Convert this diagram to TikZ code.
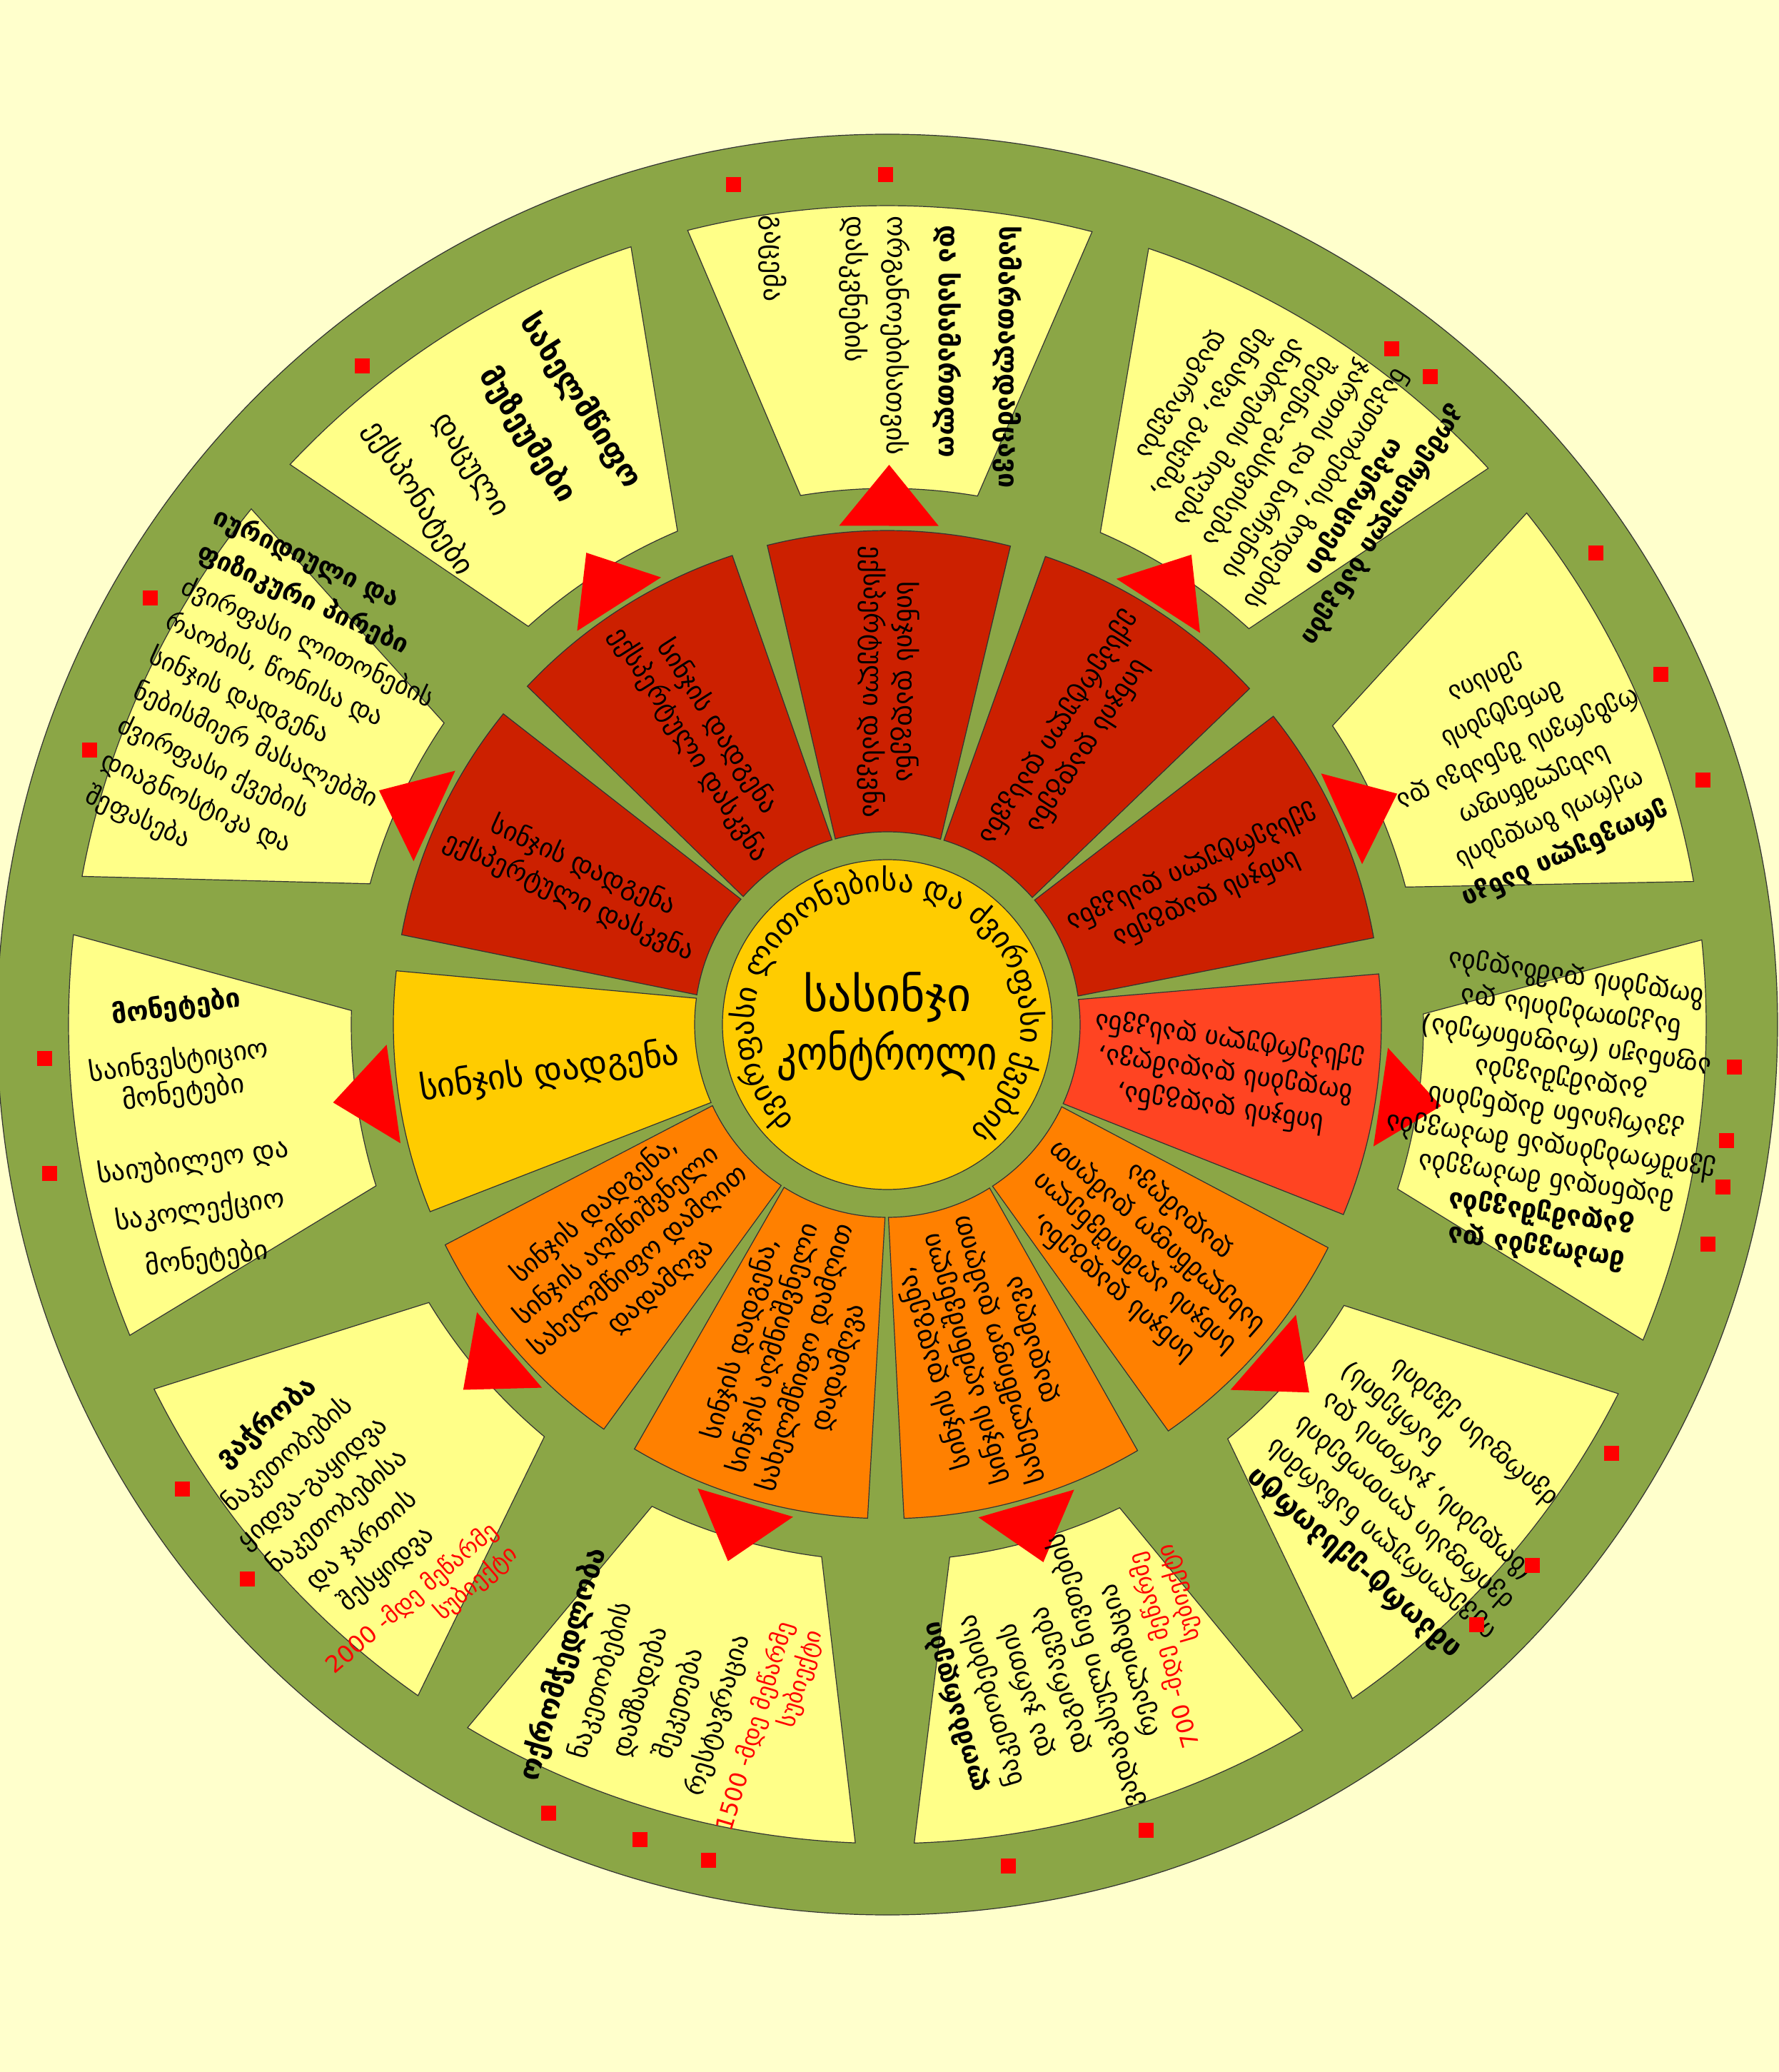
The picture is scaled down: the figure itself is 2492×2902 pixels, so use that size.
\documentclass[tikz,border=0pt]{standalone}
\usepackage{fontspec}
\usepackage{graphicx}
\setmainfont{DejaVu Sans}
\usetikzlibrary{decorations.text}
\definecolor{bgc}{HTML}{FFFFCC}
\definecolor{ringc}{HTML}{8BA646}
\definecolor{panelc}{HTML}{FFFF88}
\definecolor{redc}{HTML}{CC2000}
\definecolor{redorc}{HTML}{FF4422}
\definecolor{orc}{HTML}{FF8000}
\definecolor{goldc}{HTML}{FFCC00}
\definecolor{arrowc}{HTML}{FF0000}
\newcommand\fs[2]{\fontsize{#1}{#2}\selectfont}
\newcommand\redblock[1]{{\color{arrowc}\fs{8.2}{10.5}\begin{tabular}{@{}r@{}}#1 -მდე მეწარმე\\სუბიექტი\end{tabular}}}
\begin{document}
\begin{tikzpicture}[x=0.25pt,y=0.25pt,
  secline/.style={draw=black!80,line width=0.3pt},
  ptext/.style={align=center,inner sep=0pt},
  stext/.style={align=center,font=\fs{9.2}{11.8},inner sep=0pt},
  sqr/.style={fill=arrowc}]
\useasboundingbox (-1243,-1467) rectangle (1249,1435);
\fill[bgc] (-1243,-1467) rectangle (1249,1435);
\filldraw[fill=ringc,secline] (0,0) circle[radius=1247];
% sectors, panels, arrows
\foreach \k/\c in {0/goldc,1/orc,2/orc,3/orc,4/orc,5/redorc,6/redc,7/redc,8/redc,9/redc,10/redc}{
  \pgfmathsetmacro\t{188+32.72727*\k}
  \filldraw[fill=\c,secline] (\t-15.85:270) -- (\t-14.25:692)
     arc[start angle=\t-14.25,end angle=\t+14.25,radius=692] -- (\t+15.85:270)
     arc[start angle=\t+15.85,end angle=\t-15.85,radius=270] -- cycle;
  \filldraw[fill=panelc,secline] (\t-9.5:751) -- (\t-14.3:1147)
     arc[start angle=\t-14.3,end angle=\t+14.3,radius=1147] -- (\t+9.5:751)
     arc[start angle=\t+9.5,end angle=\t-9.5,radius=751] -- cycle;
  \fill[arrowc] (\t-5.7:702) -- (\t:784) -- (\t+5.7:702) -- cycle;
}
\filldraw[fill=goldc,secline] (0,0) circle[radius=231];
\node[font=\fs{16.5}{20.5},align=center,inner sep=0pt] (ctr) at (0,-3) {სასინჯი\\\scalebox{0.83}[1]{კონტროლი}};
\path[decorate,decoration={text along path,text align=center,
  text={|\fs{10.6}{12}|ძვირფასი  ლითონებისა  და  ძვირფასი  ქვების}}]
  (238:187) arc[start angle=238,end angle=-64,radius=187];
% sector texts
\node[align=center,font=\fs{12}{13},inner sep=0pt,rotate=8] (s0) at (188:478) {სინჯის დადგენა};
\node[stext,rotate=40.727] (s1) at (220.727:480) {სინჯის დადგენა,\\სინჯის აღმნიშვნელი\\სახელმწიფო დამღით\\დადამღვა};
\node[stext,rotate=73.455] (s2) at (253.455:480) {სინჯის დადგენა,\\სინჯის აღმნიშვნელი\\სახელმწიფო დამღით\\დადამღვა};
\node[stext,rotate=106.182] (s3) at (286.182:480) {სინჯის დადგენა,\\სინჯის აღმნიშვნელი\\სახელმწიფო დამღით\\დადამღვა};
\node[stext,rotate=138.909] (s4) at (318.909:480) {სინჯის დადგენა,\\სინჯის აღმნიშვნელი\\სახელმწიფო დამღით\\დადამღვა};
\node[stext,rotate=171.636] (s5) at (351.636:478) {სინჯის დადგენა,\\ზოდების დადამღვა,\\ექსპერტული დასკვნა};
\node[stext,rotate=204.364] (s6) at (24.364:480) {სინჯის დადგენა\\ექსპერტული დასკვნა};
\node[stext,rotate=237.091] (s7) at (57.091:480) {სინჯის დადგენა\\ექსპერტული დასკვნა};
\node[stext,rotate=269.818] (s8) at (89.818:480) {სინჯის დადგენა\\ექსპერტული დასკვნა};
\node[stext,rotate=302.545] (s9) at (122.545:480) {სინჯის დადგენა\\ექსპერტული დასკვნა};
\node[stext,rotate=335.273] (s10) at (155.273:480) {სინჯის დადგენა\\ექსპერტული დასკვნა};
% panel texts
\node[ptext,rotate=8,font=\fs{9.5}{9}] (p0) at (188.9:990)
 {{\bfseries\fs{9.3}{9} მონეტები}\\[7.75pt]საინვესტიციო\\მონეტები\\[13.25pt]საიუბილეო და\\[6pt]საკოლექციო\\[6pt]მონეტები};
\node[ptext,rotate=40.727,font=\fs{9.1}{13.2}] (p1) at (222.8:1030)
 {{\bfseries\fs{9.6}{13.2} ვაჭრობა}\\ნაკეთობების\\ყიდვა-გაყიდვა\\ნაკეთობებისა\\და ჯართის\\შესყიდვა\\[3pt]\redblock{2000}};
\node[ptext,rotate=73.455,font=\fs{9.1}{14.2}] (p2) at (252.5:995)
 {{\bfseries\fs{9.9}{14.2} ოქრომჭედლობა}\\ნაკეთობების\\დამზადება\\შეკეთება\\რესტავრაცია\\[3pt]\redblock{1500}};
\node[ptext,rotate=106.182,font=\fs{9.2}{12.6}] (p3) at (286.2:950)
 {{\bfseries\fs{8.9}{12.6} ლომბარდები}\\ნაკეთობებისა\\და ჯართის\\დაგირავება\\ვადაგასული ნივთების\\რეალიზაცია\\[2pt]\redblock{700}};
\node[ptext,rotate=138.909,font=\fs{9.1}{12.4}] (p4) at (318:995)
 {{\bfseries\fs{10}{12.4} იმპორტ-ექსპორტი}\\იუველირული ნაწარმის\\ძვირფასი ლითონების\\(ზოდების, ჯართის და\\\hspace*{6em}ნარჩენის)\\ძვირფასი ქვების};
\node[ptext,rotate=171.636,font=\fs{9.3}{11.9}] (p5) at (352.5:945)
 {{\bfseries მოპოვება და}\\{\bfseries გადამუშავება}\\მადნიდან მოპოვება\\ქვიშრობებიდან მოპოვება\\კვარციანი მადნების\\გადამუშავება\\აფინაჟი (რაფინირება)\\ნაკეთობებისა და\\ზოდების დამზადება};
\node[ptext,rotate=204.364,font=\fs{9}{13.5}] (p6) at (22:965)
 {{\bfseries ეროვნული ბანკი}\\ოქროს ზოდების\\სახელმწიფო\\რეზერვის შენახვა და\\მონეტების\\ემისია};
\node[ptext,rotate=237.091,font=\fs{8.9}{12}] (p7) at (55:965)
 {{\bfseries კომერციული ბანკები}\\{\bfseries ოპერაციები}\\ნაკეთობების, ზოდების\\ჯართის და ნარჩენის\\შეძენა-გასხვისება\\ანაბრების მიღება\\შენახვა, გაცემა,\\დაგირავება};
\node[ptext,align=left,rotate=269.818,font=\fs{9.4}{20}] (p8) at (89.8:942)
 {{\bfseries\fs{9.4}{20} სამართალდამცავი}\\[1pt]{\bfseries\fs{9.4}{20} და სასამართლო}\\[-1.75pt]ორგანოებისათვის\\[-5.5pt]დასკვნების\\[8.5pt]გაცემა};
\node[ptext,rotate=302.545,font=\fs{10.2}{22}] (p9) at (124:975)
 {{\bfseries\fs{10.5}{22} სახელმწიფო}\\{\bfseries\fs{10.5}{22} მუზეუმები}\\დაცული\\ექსპონატები};
\node[ptext,align=left,rotate=335.273,font=\fs{8.9}{13.4}] (p10) at (153:962)
 {{\bfseries იურიდიული და}\\{\bfseries ფიზიკური პირები}\\ძვირფასი ლითონების\\რაობის, წონისა და\\სინჯის დადგენა\\ნებისმიერ მასალებში\\ძვირფასი ქვების\\დიაგნოსტიკა და\\შეფასება};
% red squares
\foreach \x/\y in {-215/1176,-2/1190,-735/922,706/946,760/907,-1032/597,992/660,-1117/384,1083/490,1142/342,
  -1180/-47,-1173/-208,1186/-59,1175/-162,1170/-227,1149/-307,-987/-650,-896/-776,1014/-600,903/-757,825/-840,
  -474/-1104,-346/-1141,-250/-1170,169/-1178,362/-1128}
  \fill[sqr] (\x-10.5,\y-10.5) rectangle +(21,21);
\end{tikzpicture}
\end{document}
